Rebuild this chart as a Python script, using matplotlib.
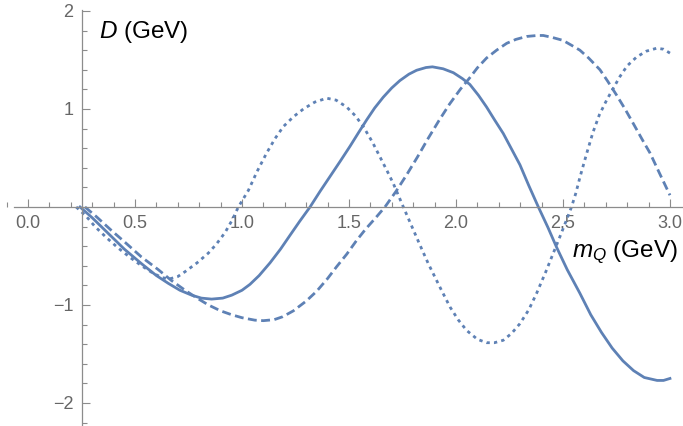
import matplotlib
matplotlib.use("Agg")
import matplotlib.pyplot as plt
from matplotlib.ticker import MultipleLocator

plt.rcParams['font.family'] = ['Liberation Sans', 'DejaVu Sans']
plt.rcParams['mathtext.fontset'] = 'custom'
plt.rcParams['mathtext.rm'] = 'Liberation Sans'
plt.rcParams['mathtext.it'] = 'Liberation Sans:italic'

# solid curve
x_solid = [0.243, 0.30, 0.375, 0.45, 0.531, 0.60, 0.656, 0.71, 0.765, 0.81, 0.858, 0.91,
           0.952, 1.00, 1.037, 1.08, 1.131, 1.18, 1.224, 1.27, 1.318, 1.365, 1.411, 1.46,
           1.505, 1.545, 1.583, 1.62, 1.66, 1.70, 1.738, 1.78, 1.816, 1.86, 1.89, 1.94,
           1.988, 2.03, 2.065, 2.105, 2.143, 2.18, 2.221, 2.26, 2.299, 2.34, 2.385, 2.43,
           2.47, 2.52, 2.579, 2.63, 2.68, 2.73, 2.78, 2.83, 2.88, 2.94, 2.97, 3.00]
y_solid = [0.0, -0.11, -0.27, -0.43, -0.58, -0.70, -0.78, -0.85, -0.90, -0.93, -0.94, -0.93,
           -0.90, -0.85, -0.79, -0.70, -0.57, -0.43, -0.29, -0.145, 0.0, 0.16, 0.31, 0.47,
           0.62, 0.76, 0.89, 1.01, 1.12, 1.215, 1.29, 1.355, 1.395, 1.423, 1.43, 1.41,
           1.37, 1.31, 1.25, 1.14, 1.02, 0.89, 0.75, 0.59, 0.43, 0.22, 0.0, -0.21,
           -0.41, -0.64, -0.88, -1.10, -1.28, -1.44, -1.57, -1.67, -1.74, -1.77, -1.77, -1.75]

# dashed curve
x_dash = [0.266, 0.32, 0.39, 0.453, 0.53, 0.609, 0.67, 0.734, 0.79, 0.843, 0.90, 0.952,
          1.00, 1.06, 1.10, 1.15, 1.19, 1.24, 1.30, 1.349, 1.40, 1.442, 1.49, 1.536,
          1.58, 1.625, 1.668, 1.72, 1.77, 1.82, 1.87, 1.92, 1.97, 2.02, 2.065, 2.10,
          2.143, 2.19, 2.237, 2.28, 2.33, 2.38, 2.408, 2.45, 2.50, 2.54, 2.579, 2.62,
          2.673, 2.71, 2.751, 2.79, 2.829, 2.87, 2.907, 2.95, 3.00]
y_dash = [0.0, -0.10, -0.24, -0.36, -0.51, -0.64, -0.75, -0.85, -0.93, -1.00, -1.06, -1.10,
          -1.13, -1.155, -1.16, -1.15, -1.12, -1.06, -0.96, -0.86, -0.73, -0.61, -0.48, -0.34,
          -0.22, -0.11, 0.0, 0.16, 0.33, 0.51, 0.70, 0.88, 1.05, 1.20, 1.32, 1.42,
          1.52, 1.60, 1.67, 1.71, 1.74, 1.75, 1.75, 1.73, 1.70, 1.65, 1.60, 1.52,
          1.40, 1.28, 1.14, 1.00, 0.85, 0.69, 0.55, 0.35, 0.12]

# dotted curve
x_dot = [0.225, 0.27, 0.313, 0.37, 0.422, 0.48, 0.531, 0.58, 0.625, 0.66, 0.70, 0.734,
         0.79, 0.843, 0.88, 0.921, 0.955, 0.983, 1.03, 1.07, 1.115, 1.155, 1.193, 1.24,
         1.287, 1.34, 1.396, 1.44, 1.489, 1.53, 1.567, 1.61, 1.645, 1.68, 1.707, 1.754,
         1.79, 1.832, 1.871, 1.93, 1.972, 2.01, 2.05, 2.10, 2.143, 2.18, 2.221, 2.26,
         2.299, 2.34, 2.377, 2.42, 2.455, 2.49, 2.517, 2.54, 2.56, 2.579, 2.61, 2.64,
         2.67, 2.704, 2.74, 2.766, 2.80, 2.844, 2.89, 2.938, 2.97, 3.00]
y_dot = [0.0, -0.09, -0.20, -0.32, -0.42, -0.52, -0.60, -0.67, -0.72, -0.735, -0.71, -0.66,
         -0.57, -0.47, -0.38, -0.26, -0.13, 0.0, 0.17, 0.36, 0.55, 0.70, 0.82, 0.92,
         1.00, 1.07, 1.11, 1.09, 1.02, 0.93, 0.82, 0.66, 0.51, 0.36, 0.24, 0.0,
         -0.18, -0.39, -0.58, -0.84, -1.02, -1.15, -1.26, -1.35, -1.385, -1.385, -1.36, -1.29,
         -1.19, -1.05, -0.88, -0.66, -0.47, -0.28, -0.13, 0.0, 0.14, 0.30, 0.54, 0.76,
         0.94, 1.09, 1.23, 1.33, 1.44, 1.53, 1.59, 1.62, 1.61, 1.57]

col = '#5E81B5'

fig = plt.figure(figsize=(6.83, 4.26), dpi=100)
ax = fig.add_axes([0, 0, 1, 1])

ax.plot(x_solid, y_solid, color=col, lw=2.0, solid_joinstyle='round')
ax.plot(x_dash, y_dash, color=col, lw=2.0, dashes=(3.2, 1.6), dash_capstyle='butt')
ax.plot(x_dot, y_dot, color=col, lw=2.0, dashes=(1.2, 1.5), dash_capstyle='butt')

ax.set_xlim(-0.131, 3.061)
ax.set_ylim(-2.235, 2.112)

for s in ['top', 'right']:
    ax.spines[s].set_visible(False)
ax.spines['left'].set_position(('data', 0.25))
ax.spines['bottom'].set_position(('data', 0))
ax.spines['left'].set_bounds(-2.3, 2.01)
ax.spines['bottom'].set_bounds(-0.065, 3.1)
for s in ['left', 'bottom']:
    ax.spines[s].set_color('#8c8c8c')
    ax.spines[s].set_linewidth(0.9)

ax.set_xticks([0.0, 0.5, 1.0, 1.5, 2.0, 2.5, 3.0])
ax.set_xticklabels(['0.0', '0.5', '1.0', '1.5', '2.0', '2.5', '3.0'])
ax.xaxis.set_minor_locator(MultipleLocator(0.1))
ax.set_yticks([-2, -1, 1, 2])
ax.set_yticklabels(['\u22122', '\u22121', '1', '2'])
ax.yaxis.set_minor_locator(MultipleLocator(0.2))

ax.tick_params(which='both', direction='in', color='#8c8c8c', width=0.8,
               labelsize=13, labelcolor='#666666')
ax.tick_params(which='major', length=6, pad=6)
ax.tick_params(which='minor', length=3.5)

ax.text(0.33, 1.79, r'$D$ (GeV)', fontsize=17.5, va='center', ha='left')
ax.text(2.54, -0.46, r'$m_Q$ (GeV)', fontsize=17.5, va='center', ha='left')

fig.savefig('out.png', dpi=100)
